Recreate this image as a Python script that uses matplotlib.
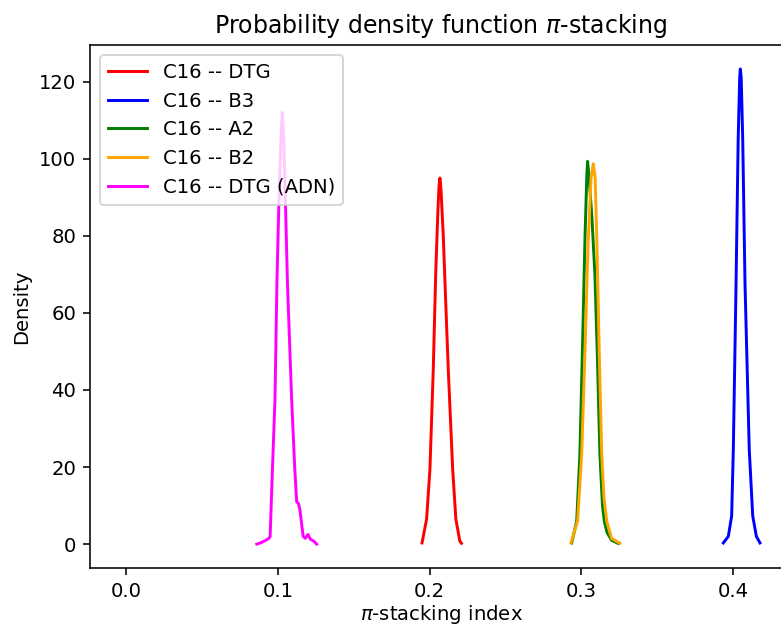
"""Probability density of the pi-stacking index for the C16 systems."""
import matplotlib
matplotlib.use("Agg")
import matplotlib.pyplot as plt

# values (x = pi-stacking index, y = density)
dtg_x = [0.1950, 0.1980, 0.2002, 0.2024, 0.2040, 0.2055, 0.2062, 0.2068,
         0.2075, 0.2090, 0.2105, 0.2123, 0.2152, 0.2173, 0.2199, 0.2210]
dtg_y = [0.3, 6.5, 19.4, 45.3, 70, 87, 93, 95, 92, 80, 64, 45.3, 19.4, 6.5, 0.8, 0.2]

b3_x = [0.3937, 0.3970, 0.3992, 0.4003, 0.4021, 0.4035, 0.4045, 0.4049,
        0.4055, 0.4065, 0.4080, 0.4108, 0.4131, 0.4155, 0.4179]
b3_y = [0.3, 2, 7.3, 24.6, 67.7, 105, 121, 123.3, 121, 105, 67.7, 24.6, 7.3, 2, 0.3]

a2_x = [0.2937, 0.2970, 0.2991, 0.3007, 0.3025, 0.3037, 0.3042, 0.3050, 0.3070,
        0.3090, 0.3106, 0.3123, 0.3140, 0.3152, 0.3170, 0.3200, 0.3242]
a2_y = [0.3, 6, 23.3, 49.1, 80, 96, 99.3, 96, 85, 70, 49.1, 23.3, 10, 6, 3, 1, 0.2]

b2_x = [0.2932, 0.2976, 0.3003, 0.3024, 0.3045, 0.3065, 0.3079, 0.3092,
        0.3105, 0.3119, 0.3135, 0.3150, 0.3168, 0.3200, 0.3255]
b2_y = [0.3, 6, 23.3, 49.1, 78, 95, 98.7, 95, 75, 49.1, 23.3, 12, 6, 1.5, 0.2]

adn_x = [0.0860, 0.0890, 0.0920, 0.0940, 0.0948, 0.0962, 0.0980, 0.0993, 0.1006,
         0.1018, 0.1028, 0.1038, 0.1049, 0.1062, 0.1090, 0.1110, 0.1123, 0.1135,
         0.1144, 0.1166, 0.1180, 0.1197, 0.1215, 0.1235, 0.1255]
adn_y = [0.0, 0.4, 1.0, 1.5, 2.0, 18, 37.5, 68, 89, 104, 112, 105, 89, 68, 37.5,
         20, 11, 10.5, 9, 2, 1.5, 2.5, 1.2, 0.8, 0.0]

series = [
    ("C16 -- DTG", dtg_x, dtg_y, "red"),
    ("C16 -- B3", b3_x, b3_y, "blue"),
    ("C16 -- A2", a2_x, a2_y, "green"),
    ("C16 -- B2", b2_x, b2_y, "orange"),
    ("C16 -- DTG (ADN)", adn_x, adn_y, "magenta"),
]

DPI = 141.5
fig = plt.figure(figsize=(781 / DPI, 630 / DPI), dpi=DPI)
# the reference is a cropped default figure, so the axes run past the right edge
ax = fig.add_axes([90 / 781, 62 / 630, 702 / 781, 523 / 630])

for label, xs, ys, color in series:
    ax.plot(xs, ys, color=color, label=label)

ax.set_xlim(-0.024, 0.439)
ax.set_ylim(-6.2, 129.5)
ax.set_xticks([0.0, 0.1, 0.2, 0.3, 0.4])
ax.set_yticks([0, 20, 40, 60, 80, 100, 120])
ax.set_xlabel(r"$\pi$-stacking index", labelpad=1)
ax.set_ylabel("Density")
ax.set_title(r"Probability density function $\pi$-stacking")
ax.legend(loc="upper left")

fig.savefig("out.png", dpi=DPI)
